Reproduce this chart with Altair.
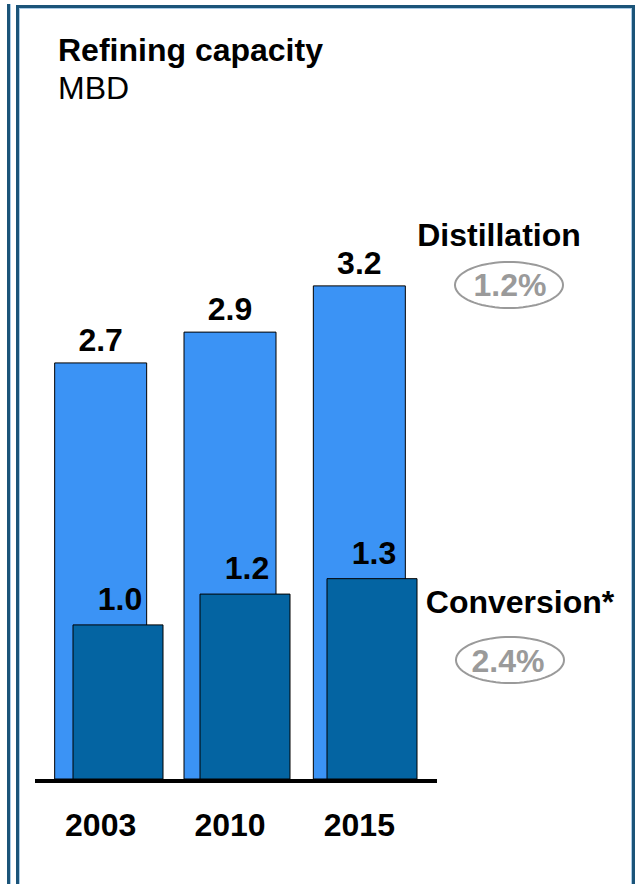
import math
import altair as alt
import pandas as pd

# Refining capacity, million barrels per day
years = ["2003", "2010", "2015"]
distillation = [2.7, 2.9, 3.2]
conversion = [1.0, 1.2, 1.3]
series_names = ["Distillation", "Conversion*"]
growth_rates = ["1.2%", "2.4%"]

df = pd.DataFrame({"year": years, "distillation": distillation, "conversion": conversion})
one = pd.DataFrame({"k": [0]})

FONT = "Liberation Sans"
FS = 32
LIGHT = "#3b93f5"
DARK = "#0464a2"
FRAME = "#1b5479"
FRAME_LIGHT = "#a9cbe6"
GREY = "#9a9a9a"

W, H = 637, 779
PX_PER_UNIT = 154.1

y_scale = alt.Scale(domain=[0, H / PX_PER_UNIT], nice=False)
x_dist = alt.Scale(domain=years, range=[36, 424], paddingInner=0, paddingOuter=0)
x_conv = alt.Scale(domain=years, range=[54.5, 435.5], paddingInner=0, paddingOuter=0)

base = alt.Chart(df)

dist_bars = base.mark_bar(width=92, color=LIGHT, stroke="black", strokeWidth=1).encode(
    x=alt.X("year:N", scale=x_dist, axis=None),
    y=alt.Y("distillation:Q", scale=y_scale, axis=None),
)
dist_labels = base.mark_text(
    dy=-12, baseline="alphabetic", font=FONT, fontSize=FS, fontWeight="bold", color="black"
).encode(
    x=alt.X("year:N", scale=x_dist, axis=None),
    y=alt.Y("distillation:Q", scale=y_scale, axis=None),
    text=alt.Text("distillation:Q", format=".1f"),
)
conv_bars = base.mark_bar(width=90, color=DARK, stroke="black", strokeWidth=1).encode(
    x=alt.X("year:N", scale=x_conv, axis=None),
    y=alt.Y("conversion:Q", scale=y_scale, axis=None),
)
conv_labels = base.mark_text(
    dx=2, dy=-15, baseline="alphabetic", font=FONT, fontSize=FS, fontWeight="bold", color="black"
).encode(
    x=alt.X("year:N", scale=x_conv, axis=None),
    y=alt.Y("conversion:Q", scale=y_scale, axis=None),
    text=alt.Text("conversion:Q", format=".1f"),
)
year_labels = base.mark_text(
    baseline="alphabetic", font=FONT, fontSize=FS, fontWeight="bold", color="black"
).encode(
    x=alt.X("year:N", scale=x_dist, axis=None),
    y=alt.value(836),
    text="year:N",
)

# thick baseline under the bars
baseline = alt.Chart(one).mark_rule(color="black", strokeWidth=4, yOffset=2).encode(
    y=alt.Y(datum=0, scale=y_scale, axis=None),
    x=alt.value(35),
    x2=alt.value(437),
)


def text_layer(label, x, y, size=FS, weight="bold", color="black", align="center"):
    return alt.Chart(one).mark_text(
        text=label, align=align, baseline="alphabetic", font=FONT,
        fontSize=size, fontWeight=weight, color=color,
    ).encode(x=alt.value(x), y=alt.value(y))


# ellipse outline as a unit-width symbol path
n = 72
ratio = 23 / 54
pts = [(math.cos(2 * math.pi * i / n), ratio * math.sin(2 * math.pi * i / n)) for i in range(n)]
ellipse_path = "M" + " L".join(f"{px:.4f},{py:.4f}" for px, py in pts) + " Z"


def ellipse_layer(x, y, width=108):
    return alt.Chart(one).mark_point(
        shape=ellipse_path, size=width * width, filled=False, stroke=GREY, strokeWidth=2, opacity=1
    ).encode(x=alt.value(x), y=alt.value(y))


def frame_rule(x, y, x2=None, y2=None, color=FRAME, width=3):
    enc = {"x": alt.value(x), "y": alt.value(y)}
    if x2 is not None:
        enc["x2"] = alt.value(x2)
    if y2 is not None:
        enc["y2"] = alt.value(y2)
    return alt.Chart(one).mark_rule(color=color, strokeWidth=width).encode(**enc)


frame = [
    frame_rule(8.5, 4, y2=884),
    frame_rule(10.5, 4, y2=884, color=FRAME_LIGHT, width=1),
    frame_rule(17.5, 5, y2=884),
    frame_rule(19.5, 8, y2=884, color=FRAME_LIGHT, width=1),
    frame_rule(16, 6.5, x2=635),
    frame_rule(19, 8.5, x2=631, color=FRAME_LIGHT, width=1),
    frame_rule(633.5, 5, y2=884),
    frame_rule(631.5, 8, y2=884, color=FRAME_LIGHT, width=1),
]

annotations = [
    text_layer("Refining capacity", 58, 61, align="left"),
    text_layer("MBD", 58, 99, weight="normal", align="left"),
    text_layer(series_names[0], 499, 246),
    ellipse_layer(509, 285),
    text_layer(growth_rates[0], 510, 296, color=GREY),
    text_layer(series_names[1], 520, 613),
    ellipse_layer(510, 660),
    text_layer(growth_rates[1], 508, 672, color=GREY),
]

chart = alt.layer(
    *frame,
    dist_bars, conv_bars, baseline,
    dist_labels, conv_labels, year_labels,
    *annotations,
).resolve_scale(x="independent").properties(
    width=W,
    height=H,
    padding={"left": 0, "top": 0, "right": 0, "bottom": 884 - H},
    autosize=alt.AutoSizeParams(type="none"),
    background="white",
).configure_view(stroke=None)

chart.save("out.html", embed_options={"renderer": "svg", "actions": False})
